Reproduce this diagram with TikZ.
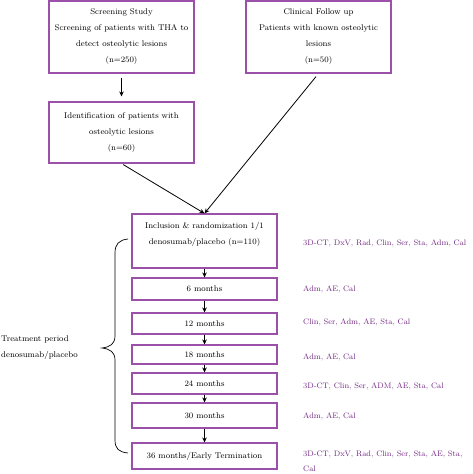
\documentclass[tikz,border=0pt]{standalone}
\usepackage{tikz}
\usetikzlibrary{arrows.meta}
\definecolor{boxpurple}{RGB}{155,80,170}
\definecolor{notepurple}{RGB}{115,40,130}
\tikzset{
	stage/.style={draw=boxpurple, line width=1.1pt, minimum width=145pt, align=center, inner sep=0pt},
	note/.style={anchor=west, text=notepurple, align=left, inner sep=0pt, font=\fontsize{7.9}{15}\selectfont},
	flow/.style={-{Stealth[length=5pt,width=4.5pt]}, line width=0.8pt},
}

\begin{document}
\begin{tikzpicture}[x=1pt,y=-1pt,font=\fontsize{8.3}{16}\selectfont]
			\useasboundingbox (0,0) rectangle (473,474);
			\node[stage, minimum height=72pt] (screen) at (121.5,37) {Screening Study\\Screening of patients with THA to\\detect osteolytic lesions\\(n=250)};
			\node[stage, minimum height=72pt] (clinic) at (318.5,37) {Clinical Follow up\\Patients with known osteolytic\\lesions\\(n=50)};
			\node[stage, minimum height=61pt] (ident) at (121.5,132.5) {Identification of patients with\\osteolytic lesions\\(n=60)};
			\node[stage, minimum height=54pt] (incl) at (204.5,241) {Inclusion \& randomization 1/1\\denosumab/placebo (n=110)\\\mbox{}};
			\node[stage, minimum height=22pt] (m6) at (204.5,289) {6 months};
			\node[stage, minimum height=21pt] (m12) at (204.5,323.5) {12 months};
			\node[stage, minimum height=19pt] (m18) at (204.5,354.5) {18 months};
			\node[stage, minimum height=21pt] (m24) at (204.5,383.5) {24 months};
			\node[stage, minimum height=25pt] (m30) at (204.5,415.5) {30 months};
			\node[stage, minimum height=26pt] (m36) at (204.5,456) {36 months/Early Termination};
			\draw[flow, shorten <=4pt, shorten >=5pt] (screen) -- (ident);
			\draw[flow, shorten <=2pt] (ident.south) -- (incl.north);
			\draw[flow, shorten <=4pt] (clinic.south) -- (incl.north);
			\draw[flow] (incl) -- (m6);
			\draw[flow] (m6) -- (m12);
			\draw[flow] (m12) -- (m18);
			\draw[flow] (m18) -- (m24);
			\draw[flow] (m24) -- (m30);
			\draw[flow] (m30) -- (m36);
			\node[note] (v0) at (303,243) {3D-CT, DxV, Rad, Clin, Ser, Sta, Adm, Cal};
			\node[note] (v6) at (303,289) {Adm, AE, Cal};
			\node[note] (v12) at (303,322) {Clin, Ser, Adm, AE, Sta, Cal};
			\node[note] (v18) at (303,357) {Adm, AE, Cal};
			\node[note] (v24) at (303,386) {3D-CT, Clin, Ser, ADM, AE, Sta, Cal};
			\node[note] (v30) at (303,416) {Adm, AE, Cal};
			\node[note] (v36) at (303,461.5) {3D-CT, DxV, Rad, Clin, Ser, Sta, AE, Sta,\\Cal};
			\node[anchor=west, align=left, inner sep=0pt] (period) at (1,348) {Treatment period\\denosumab/placebo};
			\draw[line width=0.7pt] (128,239) .. controls (119,240) and (115,244) .. (115,253) -- (115,336) .. controls (115,344) and (110,347) .. (102,348) .. controls (110,349) and (115,352) .. (115,360) -- (115,440) .. controls (115,449) and (119,452) .. (128,453);
		\end{tikzpicture}
\end{document}
